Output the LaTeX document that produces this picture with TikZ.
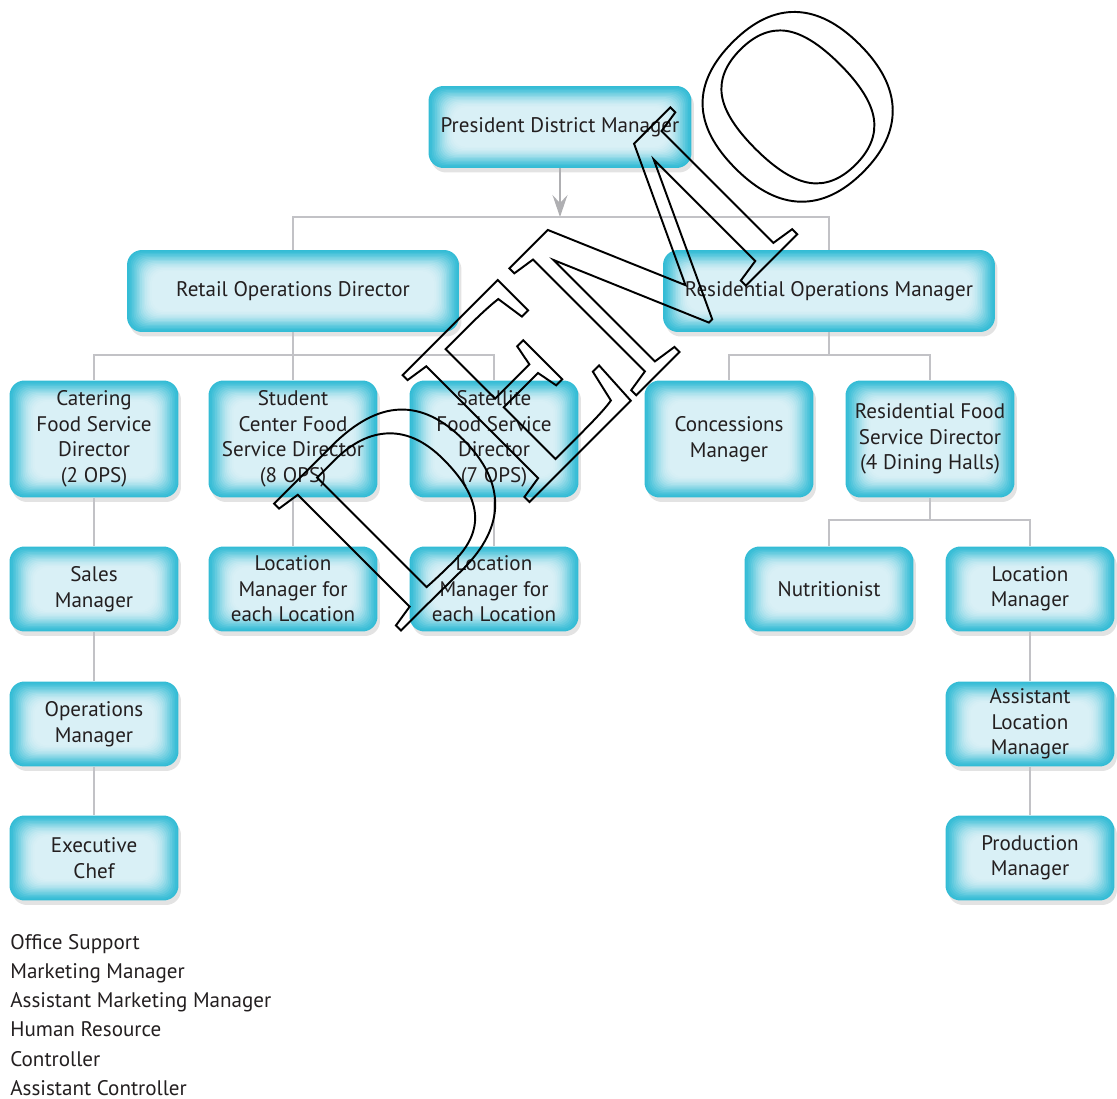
\documentclass[tikz,border=0pt]{standalone}
\usepackage{fontspec}
\setmainfont{PT Sans}
\newfontfamily\demofont{Liberation Serif}
\usetikzlibrary{shadows,arrows.meta}

\definecolor{boxcyan}{HTML}{33BCD5}
\definecolor{boxlight}{HTML}{D9F0F6}
\definecolor{linkgray}{HTML}{C2C2C6}
\definecolor{inkdark}{HTML}{231F20}

\tikzset{
  orgbox/.style={rounded corners=0.3cm, fill=boxcyan, text=inkdark, align=center,
    font=\fontsize{12}{14.5}\selectfont, inner sep=0pt,
    drop shadow={shadow xshift=0.05cm, shadow yshift=-0.09cm, opacity=0.22},
    path picture={\foreach \k/\p in {1/5, 2/12, 3/20, 4/29, 5/38, 6/47, 7/56, 8/65,
        9/73, 10/80, 11/86, 12/91, 13/95, 14/98, 15/100}{
      \fill[boxlight!\p!boxcyan, rounded corners=0.25cm]
        ([shift={(\k*0.33mm,-\k*0.28mm)}]path picture bounding box.north west) rectangle
        ([shift={(-\k*0.33mm,\k*0.28mm)}]path picture bounding box.south east);}}},
  topbox/.style={orgbox, minimum width=5.26cm, minimum height=1.64cm},
  headbox/.style={orgbox, minimum width=6.64cm, minimum height=1.64cm},
  tallbox/.style={orgbox, minimum width=3.38cm, minimum height=2.34cm},
  smallbox/.style={orgbox, minimum width=3.38cm, minimum height=1.70cm},
  link/.style={draw=linkgray, line width=0.8pt}
}

\begin{document}
\begin{tikzpicture}[x=0.02cm,y=-0.02cm]
\useasboundingbox (0,0) rectangle (1117,1099);
% Niveaux des barres horizontales
\coordinate (bus1) at (0,217);
\coordinate (bus2) at (0,355);
\coordinate (bus3) at (0,520);
% Direction
\node[topbox] (pres) at (560,127) {President District Manager};
\node[headbox] (retail) at (293,291) {Retail Operations Director};
\node[headbox] (resops) at (829,291) {Residential Operations Manager};
% Directeurs
\foreach \x/\nom/\texte in {94/catering/{Catering\\Food Service\\Director\\(2 OPS)},
    293/student/{Student\\Center Food\\Service Director\\(8 OPS)},
    494/satellite/{Satellite\\Food Service\\Director\\(7 OPS)},
    729/concess/{Concessions\\Manager},
    930/resfood/{Residential Food\\Service Director\\(4 Dining Halls)}} {
  \node[tallbox] (\nom) at (\x,439) {\texte};
}
% Managers
\foreach \x/\y/\nom/\texte in {94/589/sales/{Sales\\Manager},
    94/724/opsmgr/{Operations\\Manager},
    94/858/chef/{Executive\\Chef},
    293/589/stuloc/{Location\\Manager for\\each Location},
    494/589/satloc/{Location\\Manager for\\each Location},
    829/589/nutri/{Nutritionist},
    1030/589/locmgr/{Location\\Manager},
    1030/724/asstloc/{Assistant\\Location\\Manager},
    1030/858/prodmgr/{Production\\Manager}} {
  \node[smallbox] (\nom) at (\x,\y) {\texte};
}
% Liaisons
\draw[link, draw=linkgray!90!black, -{Stealth[length=4.4mm, width=3mm, inset=1.6mm]}]
  (pres.south) -- (pres.south |- bus1);
\draw[link] (retail.north) -- (retail.north |- bus1) -- (resops.north |- bus1) -- (resops.north);
\draw[link] (retail.south) -- (student.north);
\draw[link] (catering.north) -- (catering.north |- bus2) -- (satellite.north |- bus2) -- (satellite.north);
\draw[link] (resops.south) -- (resops.south |- bus2);
\draw[link] (concess.north) -- (concess.north |- bus2) -- (resfood.north |- bus2) -- (resfood.north);
\draw[link] (resfood.south) -- (resfood.south |- bus3);
\draw[link] (nutri.north) -- (nutri.north |- bus3) -- (locmgr.north |- bus3) -- (locmgr.north);
\foreach \a/\b in {catering/sales, sales/opsmgr, opsmgr/chef, student/stuloc,
    satellite/satloc, locmgr/asstloc, asstloc/prodmgr}
  \draw[link] (\a.south) -- (\b.north);
% Services rattachés
\node[anchor=north west, inner sep=0pt, align=left, text=inkdark,
  font=\fontsize{12}{16.6}\selectfont] (support) at (10,934)
  {Office Support\\Marketing Manager\\Assistant Marketing Manager\\Human Resource\\Controller\\Assistant Controller};
% Filigrane
\node[font=\demofont\fontsize{156}{156}\selectfont, rotate=45, inner sep=0pt] (demo) at (600,305)
  {\special{pdf:literal direct 1 Tr 1.1 w}D\kern-0.06em E\kern-0.06em M\kern-0.06em O\special{pdf:literal direct 0 Tr}};
\end{tikzpicture}
\end{document}
